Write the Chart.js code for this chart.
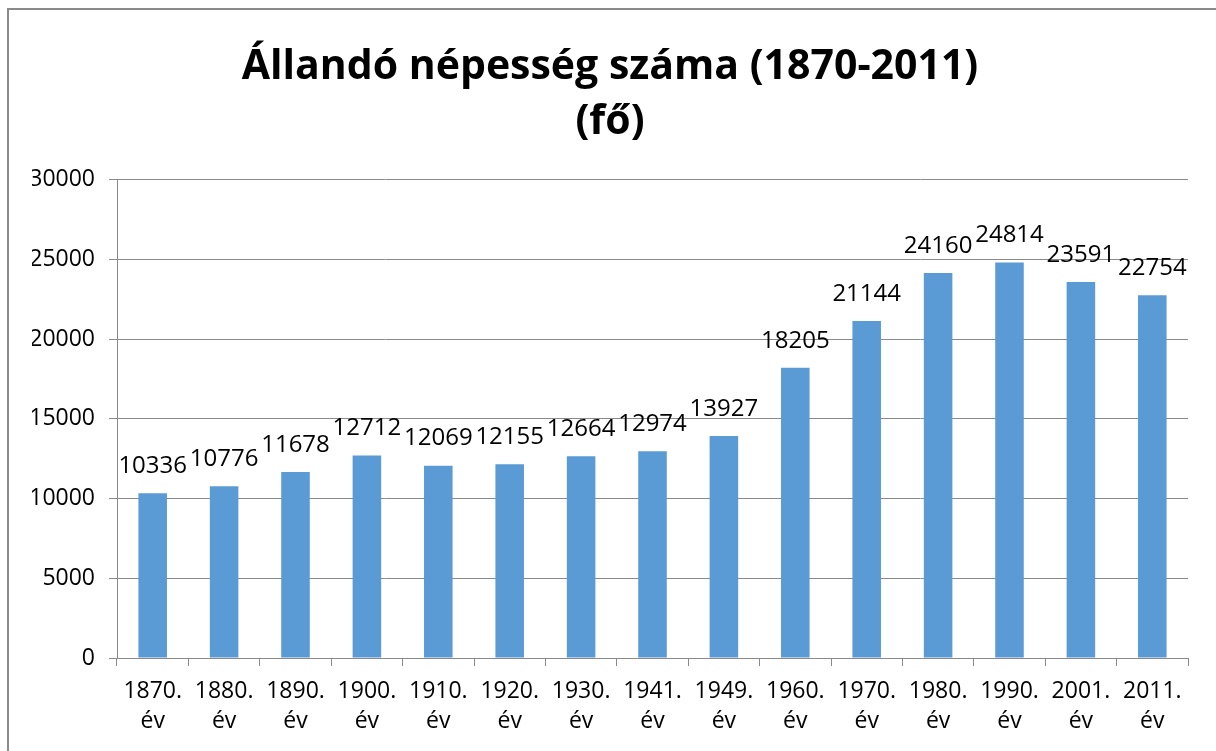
<!DOCTYPE html>
<html lang="hu">
<head>
  <meta charset="UTF-8">
  <title>Állandó népesség száma</title>
  <script src="https://cdn.jsdelivr.net/npm/chart.js"></script>
  <style>
    body { margin: 0; background: #fff; }
    #wrap { position: relative; width: 1216px; height: 751px; }
    #frame {
      position: absolute; left: 7px; top: 8px; right: -2px; bottom: -2px;
      border-left: 2px solid #8a8a8a; border-top: 2px solid #8a8a8a;
      pointer-events: none;
    }
  </style>
</head>
<body>
<div id="wrap">
  <canvas id="chart" width="1216" height="751"></canvas>
  <div id="frame"></div>
</div>
<script>
  const years = ['1870.', '1880.', '1890.', '1900.', '1910.', '1920.', '1930.', '1941.', '1949.', '1960.', '1970.', '1980.', '1990.', '2001.', '2011.'];
  const population = [10336, 10776, 11678, 12712, 12069, 12155, 12664, 12974, 13927, 18205, 21144, 24160, 24814, 23591, 22754];
  const titleLines = ['Állandó népesség száma (1870-2011)', '(fő)'];

  const FONT = "'Open Sans', sans-serif";

  const valueLabels = {
    id: 'valueLabels',
    afterDatasetsDraw(chart) {
      const ctx = chart.ctx;
      const meta = chart.getDatasetMeta(0);
      ctx.save();
      ctx.font = '24px ' + FONT;
      ctx.fillStyle = '#000';
      ctx.textAlign = 'center';
      ctx.textBaseline = 'middle';
      meta.data.forEach((bar, i) => {
        ctx.fillText(String(population[i]), bar.x, bar.y - 27);
      });
      ctx.restore();
    }
  };

  new Chart(document.getElementById('chart'), {
    type: 'bar',
    data: {
      labels: years.map(y => [y, 'év']),
      datasets: [{
        data: population,
        backgroundColor: '#5b9bd5',
        barPercentage: 0.4,
        categoryPercentage: 1
      }]
    },
    options: {
      responsive: false,
      animation: false,
      layout: { padding: { left: 32, right: 28, top: 0, bottom: 0 } },
      plugins: {
        legend: { display: false },
        tooltip: { enabled: false },
        title: {
          display: true,
          text: titleLines,
          color: '#000',
          font: { family: FONT, size: 41, weight: 'bold', lineHeight: 1.34 },
          padding: { top: 40, bottom: 30 }
        }
      },
      scales: {
        x: {
          grid: {
            color: '#8a8a8a',
            drawOnChartArea: false,
            tickLength: 8,
            offset: true
          },
          border: { color: '#8a8a8a' },
          ticks: {
            color: '#000',
            font: { family: FONT, size: 23, lineHeight: 1.3 },
            maxRotation: 0,
            autoSkip: false,
            padding: 11
          },
          afterFit(scale) { scale.height = 93; }
        },
        y: {
          min: 0,
          max: 30000,
          grid: { color: '#8a8a8a', tickLength: 8 },
          border: { color: '#8a8a8a' },
          ticks: {
            stepSize: 5000,
            color: '#000',
            font: { family: FONT, size: 23 },
            padding: 14,
            callback: v => String(v)
          },
          afterFit(scale) { scale.width = 85; }
        }
      }
    },
    plugins: [valueLabels]
  });
</script>
</body>
</html>
